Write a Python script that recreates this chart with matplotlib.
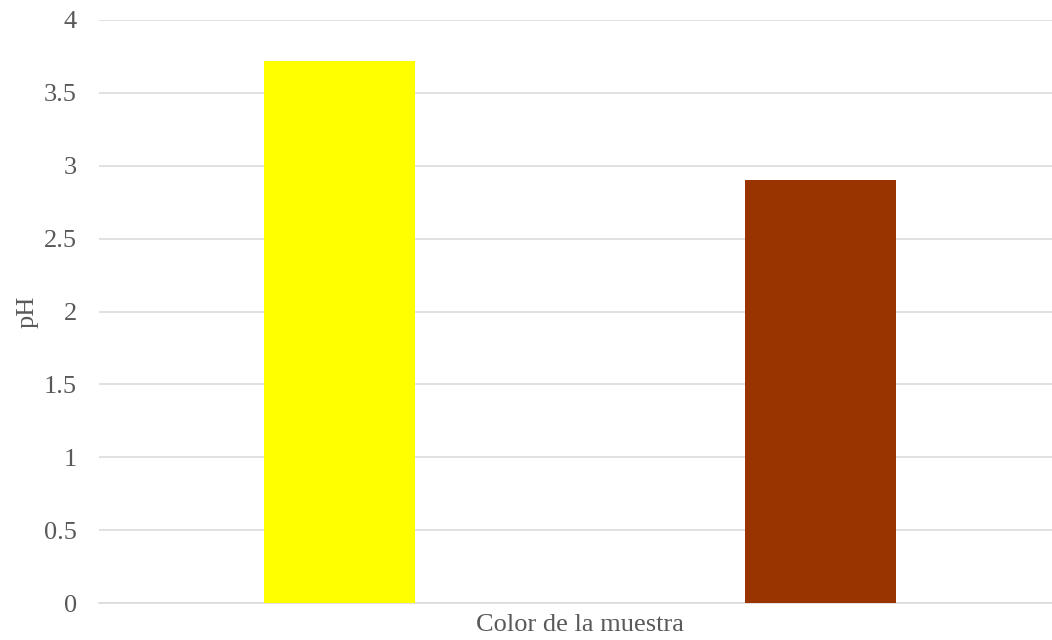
import matplotlib
matplotlib.use("Agg")
from matplotlib import pyplot as plt
import numpy as np

plt.rcParams['font.family'] = ['Liberation Serif', 'DejaVu Serif']

# pH of each sample colour
muestras = ['Amarillo', 'Café']
ph_values = [3.72, 2.90]
bar_colors = ['#ffff00', '#993300']
y_ticks = [0, 0.5, 1, 1.5, 2, 2.5, 3, 3.5, 4]

fig = plt.figure(figsize=(10.52, 6.4), dpi=100)
ax = fig.add_axes([99 / 1052, 37 / 640, 962 / 1052, 583 / 640])

x_indexes = np.arange(len(muestras))
ax.bar(x_indexes, ph_values, width=0.314, color=bar_colors, zorder=3)

ax.set_xlim(-0.5, 1.5)
ax.set_ylim(0, 4)
ax.set_yticks(y_ticks)
ax.set_yticklabels(['0', '0.5', '1', '1.5', '2', '2.5', '3', '3.5', '4'])
ax.set_xticks([])

# light horizontal gridlines, no frame except the baseline
ax.grid(axis='y', color='#d9d9d9', linewidth=1.1, zorder=0)
for side in ['top', 'right', 'left']:
    ax.spines[side].set_visible(False)
ax.spines['bottom'].set_color('#d9d9d9')
ax.spines['bottom'].set_linewidth(1.1)
ax.tick_params(axis='y', length=0, pad=16, labelsize=19, labelcolor='#595959')

ax.set_xlabel('Color de la muestra', fontsize=19, color='#595959', labelpad=8)
ax.set_ylabel('pH', fontsize=19, color='#595959', labelpad=4)

plt.savefig('out.png', dpi=100)
